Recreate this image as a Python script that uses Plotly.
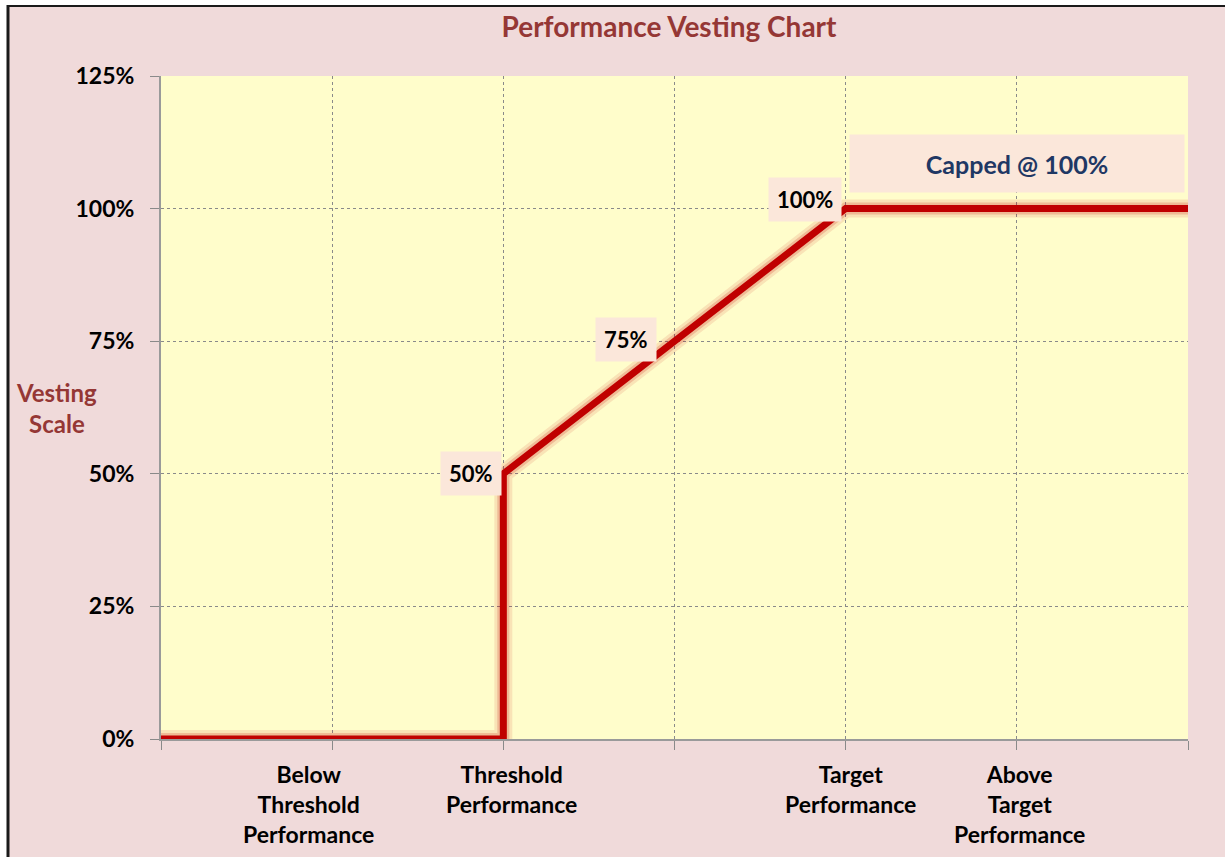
import plotly.graph_objects as go

# ---- data ----
perf_x = [0, 2, 2, 4, 6]
vesting_pct = [0, 0, 50, 100, 100]
label_points_x = [2, 3, 4]
label_points_y = [50, 75, 100]
label_texts = ["50%", "75%", "100%"]
cat_x = [1, 2, 4, 5]
cat_labels = ["Below<br>Threshold<br>Performance", "Threshold<br>Performance",
              "Target<br>Performance", "Above<br>Target<br>Performance"]
y_ticks = [0, 25, 50, 75, 100, 125]
cap_text = "Capped @ 100%"

# ---- layout geometry ----
W, H = 1225, 857
L, R, T, B = 161, 37, 76, 118
PW, PH = W - L - R, H - T - B

def px(xp):
    return (xp - L) / PW

def py(yp):
    return (H - B - yp) / PH

FONT = "Lato"
PINK = "#F0DADA"
DARKRED = "#953735"

fig = go.Figure()
# glow
fig.add_trace(go.Scatter(x=perf_x, y=vesting_pct, mode="lines",
                         line=dict(color="rgba(192,0,0,0.10)", width=18),
                         hoverinfo="skip", showlegend=False, cliponaxis=False))
fig.add_trace(go.Scatter(x=perf_x, y=vesting_pct, mode="lines",
                         line=dict(color="rgba(192,0,0,0.18)", width=12),
                         hoverinfo="skip", showlegend=False, cliponaxis=False))
fig.add_trace(go.Scatter(x=perf_x, y=vesting_pct, mode="lines",
                         line=dict(color="#C00000", width=7),
                         showlegend=False, cliponaxis=False))

annotations = []
shifts = [(-1, 0), (-18, 2), (-4, 9)]
for xv, yv, t, (xs, ys) in zip(label_points_x, label_points_y, label_texts, shifts):
    annotations.append(dict(x=xv, y=yv, xref="x", yref="y", text="<b>%s</b>" % t,
                            showarrow=False, xanchor="right", yanchor="middle",
                            xshift=xs, yshift=ys, bgcolor="#FBE7DA", borderpad=8,
                            font=dict(family=FONT, size=22, color="black")))

annotations.append(dict(x=5, y=100, xref="x", yref="y", text="<b>%s</b>" % cap_text,
                        showarrow=False, xanchor="center", yanchor="bottom", yshift=16,
                        width=332, height=55, bgcolor="#FBE7DA",
                        font=dict(family=FONT, size=25, color="#1F3864")))

cat_shift = [-24, 8, 5, 3]
for xv, t, xs in zip(cat_x, cat_labels, cat_shift):
    annotations.append(dict(x=xv, y=0, xref="x", yref="paper", text="<b>%s</b>" % t,
                            showarrow=False, xanchor="center", yanchor="top",
                            xshift=xs, yshift=-19, align="center",
                            font=dict(family=FONT, size=23, color="black")))

annotations.append(dict(x=px(56), y=py(408), xref="paper", yref="paper",
                        text="<b>Vesting<br>Scale</b>", showarrow=False,
                        xanchor="center", yanchor="middle", align="center",
                        font=dict(family=FONT, size=24, color=DARKRED)))

shapes = [
    dict(type="rect", xref="paper", yref="paper", x0=px(-5), x1=px(7), y0=py(-5), y1=py(H + 5),
         fillcolor="white", line=dict(width=0), layer="above"),
    dict(type="rect", xref="paper", yref="paper", x0=px(-5), x1=px(W + 5), y0=py(-5), y1=py(5),
         fillcolor="white", line=dict(width=0), layer="above"),
    dict(type="line", xref="paper", yref="paper", x0=px(8), x1=px(8), y0=py(5), y1=py(H + 5),
         line=dict(color="#1a1a1a", width=3), layer="above"),
    dict(type="line", xref="paper", yref="paper", x0=px(7), x1=px(W + 5), y0=py(6), y1=py(6),
         line=dict(color="#1a1a1a", width=2), layer="above"),
]

fig.update_layout(
    width=W, height=H,
    margin=dict(l=L, r=R, t=T, b=B),
    paper_bgcolor=PINK, plot_bgcolor="#FFFDCB",
    title=dict(text="<b>Performance Vesting Chart</b>", x=px(669), xanchor="center",
               y=1 - 27 / H, yanchor="middle", xref="paper",
               font=dict(family=FONT, size=28, color=DARKRED)),
    annotations=annotations, shapes=shapes, showlegend=False,
)
fig.update_xaxes(range=[0, 6], tickmode="linear", tick0=0, dtick=1, showticklabels=False,
                 showgrid=True, gridcolor="#8a8a8a", griddash="dot", gridwidth=1,
                 zeroline=False, showline=True, linecolor="#9a9a9a", linewidth=2,
                 ticks="outside", ticklen=9, tickcolor="#8a8a8a", fixedrange=True)
fig.update_yaxes(range=[0, 125], tickvals=y_ticks, ticktext=["<b>%d%%</b>" % v for v in y_ticks],
                 showgrid=True, gridcolor="#8a8a8a", griddash="dot", gridwidth=1,
                 zeroline=False, showline=True, linecolor="#9a9a9a", linewidth=2,
                 ticks="outside", ticklen=9, tickcolor="#8a8a8a", ticklabelstandoff=11,
                 tickfont=dict(family=FONT, size=23, color="black"), fixedrange=True)

fig.write_html("out.html", config={"displayModeBar": False},
               post_script="document.body.style.margin='0';document.body.style.overflow='hidden';")
